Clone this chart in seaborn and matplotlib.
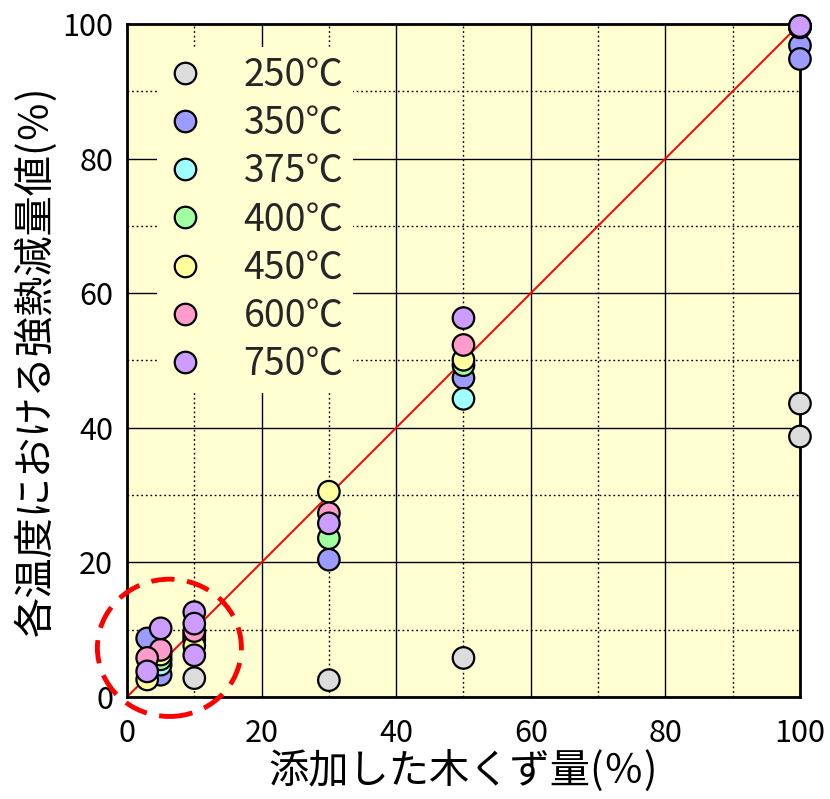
import matplotlib
matplotlib.use("Agg")
import matplotlib.pyplot as plt
import pandas as pd
import seaborn as sns
from matplotlib.patches import Ellipse
from matplotlib.ticker import MultipleLocator

# Series: firing temperature -> (wood-chip addition %, ignition loss %)
temps = ["250℃", "350℃", "375℃", "400℃", "450℃", "600℃", "750℃"]
colors = ["#DCDCDC", "#9C9CFF", "#A0FFFF", "#A0FFA0", "#FFFFA0", "#FF9CCC", "#CC9CFF"]

wood_250 = [10, 30, 50, 100, 100]
loss_250 = [2.8, 2.5, 5.8, 43.6, 38.7]
wood_350 = [3, 5, 10, 30, 50, 100, 100]
loss_350 = [8.7, 3.3, 9.5, 20.4, 47.4, 96.8, 94.8]
wood_375 = [5, 10, 50, 100]
loss_375 = [4.8, 9.0, 44.3, 99.5]
wood_400 = [5, 10, 30, 50, 100]
loss_400 = [5.6, 8.5, 23.6, 49.3, 99.6]
wood_450 = [3, 5, 10, 30, 50, 100]
loss_450 = [2.6, 6.3, 7.6, 30.5, 50.1, 99.6]
wood_600 = [5, 3, 10, 30, 50, 100]
loss_600 = [7.0, 5.8, 9.8, 27.3, 52.3, 99.7]
wood_750 = [3, 5, 10, 10, 10, 30, 50, 100]
loss_750 = [3.8, 10.2, 12.6, 10.9, 6.2, 25.8, 56.3, 99.7]

ticks = [0, 20, 40, 60, 80, 100]
x_label = "添加した木くず量(％)"
y_label = "各温度における強熱減量値(％)"

wood = [wood_250, wood_350, wood_375, wood_400, wood_450, wood_600, wood_750]
loss = [loss_250, loss_350, loss_375, loss_400, loss_450, loss_600, loss_750]
rows = []
for t, xs, ys in zip(temps, wood, loss):
    for xv, yv in zip(xs, ys):
        rows.append({"wood": xv, "loss": yv, "temp": t})
df = pd.DataFrame(rows)

sns.set_theme(style="white")
plt.rcParams["font.family"] = ["Noto Sans CJK JP", "DejaVu Sans"]

bg = "#FFFFD2"
fig = plt.figure(figsize=(8.3, 7.99), dpi=100)
ax = fig.add_axes([0.153, 0.1277, 0.8108, 0.8423])
ax.set_facecolor(bg)

# 1:1 reference line
ax.plot([0, 100], [0, 100], color="red", lw=1.4, zorder=2)

sns.scatterplot(data=df, x="wood", y="loss", hue="temp", hue_order=temps,
                palette=dict(zip(temps, colors)), s=240, edgecolor="black",
                linewidth=1.6, ax=ax, zorder=3, legend=True)
for coll in ax.collections:
    coll.set_clip_on(False)

ax.set_xlim(0, 100)
ax.set_ylim(0, 100)
ax.xaxis.set_minor_locator(MultipleLocator(10))
ax.yaxis.set_minor_locator(MultipleLocator(10))
ax.set_xticks(ticks)
ax.set_yticks(ticks)
ax.grid(which="major", color="black", lw=1.0, ls="-")
ax.grid(which="minor", color="black", lw=1.0, ls=(0, (1.3, 2.0)))
ax.set_axisbelow(True)
ax.tick_params(which="both", length=0, labelsize=22, colors="black")
ax.tick_params(axis="x", pad=15)
ax.tick_params(axis="y", pad=10)
for sp in ax.spines.values():
    sp.set_linewidth(2)
    sp.set_color("black")
    sp.set_visible(True)

ax.set_xlabel(x_label, fontsize=29, color="black")
ax.set_ylabel(y_label, fontsize=29, color="black")
ax.xaxis.set_label_coords(0.5, -0.079)
ax.yaxis.set_label_coords(-0.105, 0.5)

# dashed circle around the low-addition group
ax.add_patch(Ellipse((6.3, 7.3), 21.4, 20.4, fill=False, edgecolor="red",
                     lw=3.5, ls=(0, (4.8, 2.6)), clip_on=False, zorder=5))

handles, labels = ax.get_legend_handles_labels()
for h in handles:
    if hasattr(h, "set_markersize"):
        h.set_markersize(15.5)
        h.set_markeredgecolor("black")
        h.set_markeredgewidth(1.6)
    else:
        h.set_sizes([240])
        h.set_edgecolor("black")
        h.set_linewidth(1.6)
leg = ax.legend(handles, labels, loc="upper left", bbox_to_anchor=(0.045, 0.9665),
                fontsize=27, frameon=True, facecolor=bg, edgecolor="none",
                framealpha=1, borderpad=0.25, labelspacing=0.245,
                handlelength=1.0, handletextpad=1.05, borderaxespad=0)
leg.set_zorder(4)

fig.savefig("out.png", dpi=100, facecolor="white")
